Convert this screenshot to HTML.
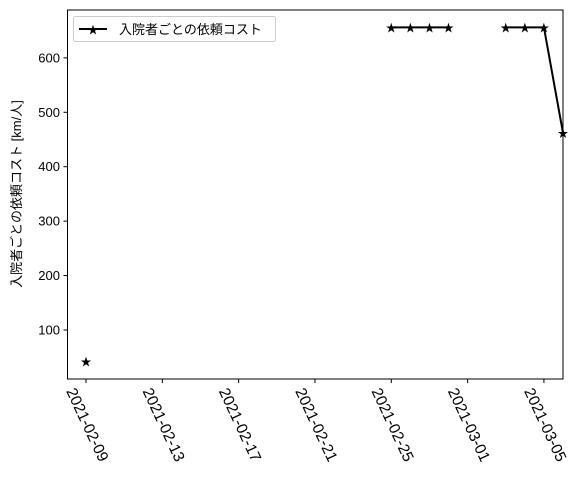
<!DOCTYPE html>
<html><head><meta charset="utf-8"><style>
body{margin:0;background:#fff}
svg text{font-family:"Liberation Sans","Noto Sans CJK JP",sans-serif;font-size:13px;fill:#000}
</style></head><body>
<svg id="c" width="580" height="479">
<rect x="67.5" y="10" width="495.5" height="369" fill="none" stroke="#000" stroke-width="1"/>
<g id="ax"></g><g id="marks"></g>
<text transform="translate(21,194) rotate(-90)" text-anchor="middle">入院者ごとの依頼コスト [km/人]</text>
<g>
<rect x="73.5" y="16.5" width="202" height="25" fill="#fff" stroke="#ccc" rx="2"/>
<line x1="79" y1="29" x2="107" y2="29" stroke="#000" stroke-width="2"/>
<text x="93" y="33.5" text-anchor="middle" style="font-size:11px">★</text>
<text x="119" y="34">入院者ごとの依頼コスト</text>
</g>
</svg>
<script>
const days=[0,null,16,17,18,19,null,22,23,24,25];
const values=[42,null,656,656,656,656,null,656,656,656,462];
const xTickDays=[0,4,8,12,16,20,24];
const xTickLabels=["2021-02-09","2021-02-13","2021-02-17","2021-02-21","2021-02-25","2021-03-01","2021-03-05"];
const yTicks=[100,200,300,400,500,600];
const NS="http://www.w3.org/2000/svg";
const X=d=>86+(d)*(563-86)/25;
const Y=v=>330-(v-100)*0.5443;
const ax=document.getElementById('ax'),mk=document.getElementById('marks');
function el(t,a,p){const e=document.createElementNS(NS,t);for(const k in a)e.setAttribute(k,a[k]);p.appendChild(e);return e;}
yTicks.forEach(v=>{const y=Y(v);
 const l=el('line',{x1:63.5,x2:67.5,y1:y,y2:y,stroke:'#000'},ax);
 
 
 const t=el('text',{x:60,y:y+4.5,'text-anchor':'end'},ax);t.textContent=v;
 
 });
xTickDays.forEach((d,i)=>{const x=X(d);
 const l=el('line',{x1:x,x2:x,y1:379,y2:383,stroke:'#000'},ax);
 
 
 const t=el('text',{transform:`translate(${x-20},${391}) rotate(65)`,style:'font-size:15.5px'},ax);t.textContent=xTickLabels[i];
 
 });
let seg=[];const segs=[];
days.forEach((d,i)=>{if(d===null||values[i]===null){if(seg.length)segs.push(seg);seg=[];}else seg.push([X(d),Y(values[i])]);});
if(seg.length)segs.push(seg);
segs.forEach(s=>{if(s.length>1){const p=el('polyline',{points:s.map(q=>q.join(',')).join(' '),fill:'none',stroke:'#000','stroke-width':2},mk);
 
 }});
days.forEach((d,i)=>{if(d===null)return;const t=el('text',{x:X(d),y:Y(values[i])+4,'text-anchor':'middle',style:'font-size:11px'},mk);t.textContent='★';
 
 });
</script>
</body></html>
